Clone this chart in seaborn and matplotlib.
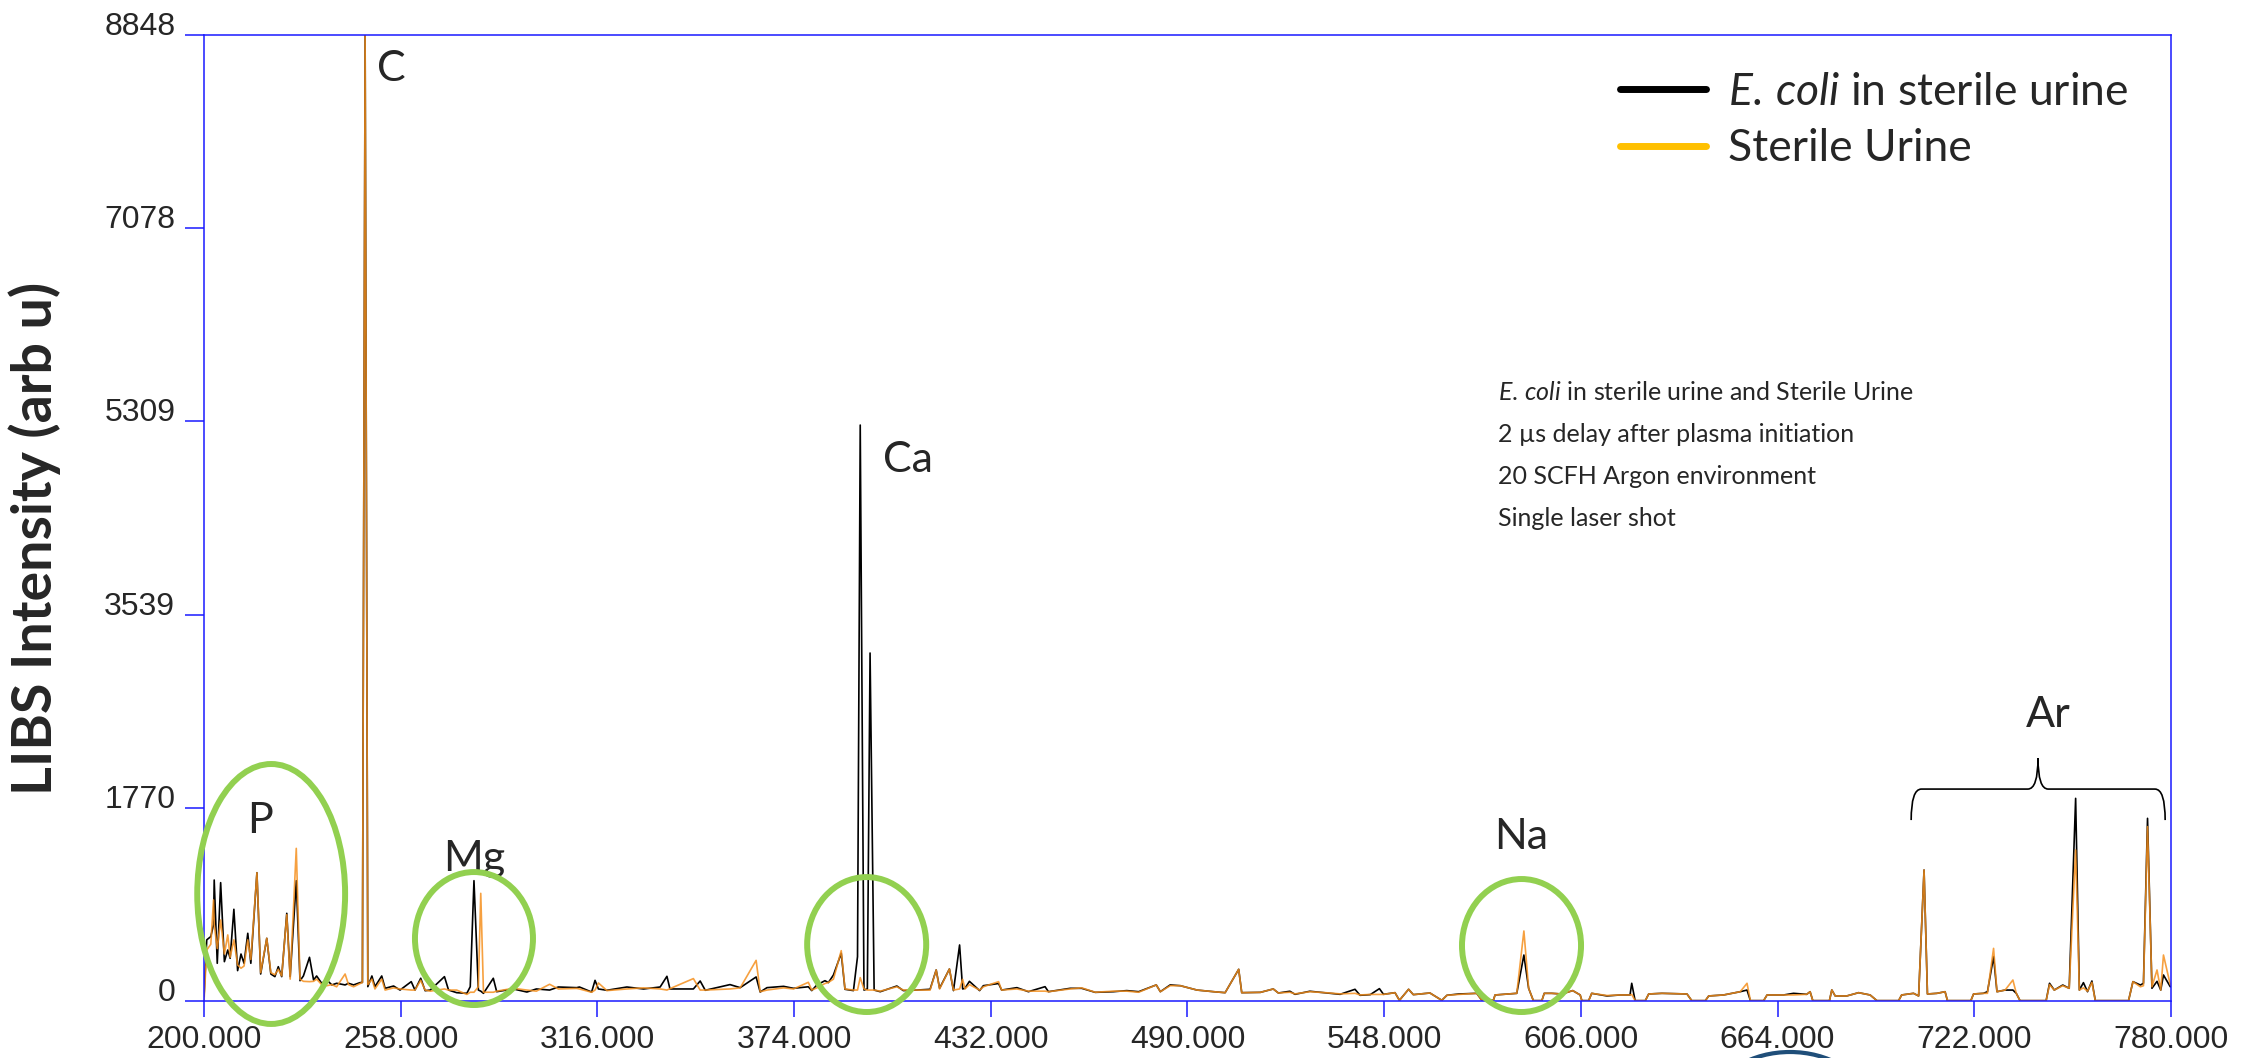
import matplotlib
matplotlib.use('Agg')
import matplotlib.pyplot as plt
import pandas as pd
import seaborn as sns
from matplotlib.lines import Line2D
from matplotlib.patches import Ellipse, PathPatch, Arc
from matplotlib.path import Path

# spectrum (nm, arb u)
wavelength = [
    200.0, 200.8, 202.0, 202.8, 203.0, 203.9, 204.9, 206.0, 207.0, 207.7,
    208.8, 209.9, 210.9, 211.8, 212.9, 213.8, 215.6, 216.7, 218.5, 219.7,
    220.9, 221.9, 222.9, 224.4, 225.4, 227.2, 228.3, 229.3, 231.1, 232.3,
    233.2, 234.7, 236.2, 237.7, 239.1, 241.6, 242.6, 244.1, 246.0, 246.7,
    247.5, 248.3, 249.5, 250.4, 252.4, 253.4, 255.9, 257.8, 261.1, 262.2,
    263.9, 265.2, 266.7, 270.9, 272.1, 274.5, 277.5, 278.5, 279.6, 280.9,
    281.6, 282.4, 285.3, 286.3, 291.2, 295.2, 298.0, 301.9, 304.5, 309.9,
    310.7, 314.3, 315.3, 316.3, 318.8, 324.7, 329.6, 334.5, 336.5, 337.4,
    344.3, 346.3, 347.8, 355.1, 358.1, 362.8, 364.0, 366.0, 370.9, 373.8,
    378.2, 379.2, 380.7, 383.1, 384.1, 385.6, 387.9, 389.0, 391.5, 392.7,
    393.5, 394.6, 395.6, 396.4, 397.6, 399.4, 404.3, 406.2, 410.2, 414.1,
    415.9, 416.9, 419.8, 421.0, 422.8, 423.7, 424.4, 425.7, 428.7, 429.8,
    434.3, 435.2, 439.7, 443.1, 448.0, 449.0, 455.4, 458.8, 462.8, 468.2,
    472.1, 475.6, 480.8, 482.0, 484.9, 487.9, 492.8, 497.7, 501.1, 505.1,
    506.0, 511.5, 515.3, 516.8, 520.2, 521.7, 526.1, 531.1, 535.0, 539.4,
    540.9, 543.9, 546.6, 547.8, 551.2, 552.5, 555.2, 556.6, 561.5, 565.0,
    566.5, 570.0, 575.3, 576.8, 580.2, 580.7, 587.1, 589.2, 590.6, 592.0,
    594.5, 595.2, 597.4, 600.4, 603.6, 605.8, 606.3, 608.3, 609.2, 613.7,
    617.6, 620.5, 621.0, 622.0, 625.0, 626.0, 629.9, 637.3, 638.7, 642.7,
    643.7, 648.1, 653.0, 655.0, 656.0, 659.9, 660.9, 665.8, 668.7, 672.6,
    673.6, 674.4, 679.3, 680.0, 681.0, 684.4, 687.9, 691.3, 693.3, 699.7,
    700.6, 704.1, 705.6, 707.2, 708.2, 711.0, 713.4, 714.1, 721.0, 721.8,
    724.7, 725.9, 727.7, 728.7, 731.1, 733.4, 734.4, 735.5, 743.2, 744.2,
    745.6, 748.1, 750.0, 751.9, 753.0, 754.2, 755.4, 756.7, 757.7, 767.5,
    768.8, 771.0, 771.9, 773.1, 774.4, 775.9, 777.0, 777.8, 779.8, 780.0,
]
ecoli = [
    40, 560, 590, 700, 1108, 345, 1084, 360, 467, 391,
    840, 278, 430, 345, 620, 345, 1175, 247, 574, 247,
    223, 314, 223, 803, 223, 1102, 186, 229, 400, 192,
    229, 162, 192, 147, 162, 147, 162, 147, 168, 170,
    8848, 131, 229, 131, 229, 116, 137, 100, 177, 100,
    208, 94, 100, 223, 100, 76, 70, 131, 1102, 100,
    90, 70, 208, 85, 110, 82, 110, 100, 128, 122,
    128, 82, 189, 110, 98, 128, 110, 128, 226, 110,
    110, 183, 98, 150, 122, 220, 82, 122, 134, 116,
    130, 95, 146, 186, 168, 238, 437, 107, 95, 406,
    5275, 100, 110, 3187, 100, 85, 137, 95, 100, 107,
    284, 116, 293, 95, 513, 110, 116, 180, 95, 140,
    160, 100, 122, 85, 131, 85, 116, 116, 79, 85,
    95, 85, 147, 85, 147, 140, 100, 85, 76, 290,
    76, 79, 110, 73, 89, 61, 89, 73, 61, 107,
    52, 58, 113, 61, 76, 6, 107, 58, 73, 6,
    52, 64, 70, 6, 6, 55, 70, 421, 116, 3,
    3, 70, 70, 64, 95, 55, 3, 3, 70, 46,
    55, 55, 162, 3, 3, 64, 70, 64, 3, 3,
    46, 55, 85, 100, 3, 3, 55, 55, 70, 61,
    85, 3, 3, 101, 46, 46, 76, 55, 3, 3,
    55, 70, 46, 1200, 64, 70, 85, 3, 3, 64,
    70, 85, 406, 85, 100, 100, 70, 3, 3, 162,
    100, 146, 116, 1856, 100, 168, 85, 183, 3, 3,
    177, 146, 162, 1673, 116, 180, 100, 238, 131, 131,
]
urine = [
    0, 467, 520, 925, 700, 480, 742, 430, 605, 400,
    560, 330, 300, 320, 560, 380, 1175, 260, 574, 260,
    240, 290, 230, 790, 200, 1398, 200, 180, 177, 180,
    200, 150, 140, 150, 130, 247, 150, 130, 160, 170,
    8848, 150, 200, 110, 200, 100, 120, 110, 100, 100,
    190, 100, 90, 110, 100, 100, 60, 80, 80, 130,
    986, 80, 80, 90, 116, 100, 90, 153, 110, 115,
    110, 80, 100, 165, 95, 110, 120, 110, 100, 113,
    205, 100, 100, 110, 120, 372, 85, 100, 120, 110,
    171, 100, 120, 160, 170, 200, 461, 110, 100, 100,
    214, 110, 100, 100, 100, 90, 130, 100, 100, 100,
    284, 110, 293, 100, 110, 198, 110, 150, 100, 130,
    177, 100, 110, 90, 90, 85, 110, 120, 80, 90,
    90, 80, 147, 85, 140, 140, 100, 85, 76, 290,
    76, 79, 110, 73, 80, 65, 85, 75, 65, 70,
    55, 60, 60, 60, 76, 6, 107, 58, 73, 6,
    52, 60, 70, 6, 6, 55, 70, 641, 116, 3,
    3, 70, 70, 64, 95, 55, 3, 3, 70, 50,
    55, 55, 60, 3, 3, 64, 70, 64, 3, 3,
    46, 55, 85, 162, 3, 3, 55, 55, 55, 61,
    85, 3, 3, 101, 46, 46, 76, 55, 3, 3,
    55, 70, 46, 1200, 64, 70, 85, 3, 3, 64,
    70, 70, 482, 85, 100, 192, 70, 3, 3, 150,
    100, 140, 116, 1383, 100, 120, 90, 170, 3, 3,
    177, 130, 140, 1597, 130, 284, 100, 421, 150, 150,
]

legend_labels = [r'$\mathit{E.\,coli}$ in sterile urine', 'Sterile Urine']

x_ticks = [200, 258, 316, 374, 432, 490, 548, 606, 664, 722, 780]
y_ticks = [0, 1769.6, 3539.2, 5308.8, 7078.4, 8848]
y_tick_labels = ['0', '1770', '3539', '5309', '7078', '8848']

element_labels = ['C', 'Ca', 'P', 'Mg', 'Na', 'Ar']
element_x = [255.3, 407.6, 216.5, 279.6, 588.4, 743.8]
element_y = [8535, 4954, 1646, 1300, 1502, 2619]

# green rings: centre (nm, intensity), width (nm), height (intensity)
ring_x = [219.8, 279.6, 395.4, 588.5]
ring_y = [980, 572, 517, 508]
ring_w = [43.6, 34.8, 35.1, 35.1]
ring_h = [2381, 1218, 1236, 1218]

note_lines = [r'$\mathit{E.\,coli}$ in sterile urine and Sterile Urine',
              '2 \u00b5s delay after plasma initiation',
              '20 SCFH Argon environment',
              'Single laser shot']

BLUE = '#1a1aff'
ORANGE = '#f5901e'
GREEN = '#92d050'
TEXT_FONT = 'Lato'

df = pd.DataFrame({'Wavelength': wavelength, 'ecoli': ecoli, 'urine': urine})

sns.set_style('white')
plt.rcParams['font.family'] = ['Liberation Sans', 'DejaVu Sans']
plt.rcParams['mathtext.fontset'] = 'custom'
plt.rcParams['mathtext.rm'] = TEXT_FONT
plt.rcParams['mathtext.it'] = TEXT_FONT + ':italic'

fig = plt.figure(figsize=(22.52, 10.58), dpi=100)
ax = fig.add_axes([0.0906, 0.0539, 0.8734, 0.913])

sns.lineplot(data=df, x='Wavelength', y='ecoli', color='black', linewidth=1.2,
             ax=ax, legend=False, sort=False)
sns.lineplot(data=df, x='Wavelength', y='urine', color=ORANGE, linewidth=1.2,
             alpha=0.85, ax=ax, legend=False, sort=False)

ax.set_xlim(200, 780)
ax.set_ylim(0, 8848)
ax.set_xticks(x_ticks)
ax.set_xticklabels([f'{v:.3f}' for v in x_ticks])
ax.set_yticks(y_ticks)
ax.set_yticklabels(y_tick_labels)
for lbl in ax.get_yticklabels():
    lbl.set_verticalalignment('baseline')

for side in ['left', 'right', 'top', 'bottom']:
    ax.spines[side].set_color(BLUE)
    ax.spines[side].set_linewidth(1.1)
ax.tick_params(axis='y', direction='out', length=13.7, width=1.1, color=BLUE,
               pad=7, labelsize=23, left=True)
ax.tick_params(axis='x', direction='out', length=11.5, width=1.1, color=BLUE,
               pad=6, labelsize=23, bottom=True)

ax.set_xlabel('')
ax.set_ylabel('LIBS Intensity (arb u)', fontsize=40, fontweight='bold',
              family=TEXT_FONT)
ax.yaxis.set_label_coords(-0.0725, 0.479)

for name, x, y in zip(element_labels, element_x, element_y):
    ax.text(x, y, name, fontsize=31, family=TEXT_FONT, ha='center', va='center')

for x, y, w, h in zip(ring_x, ring_y, ring_w, ring_h):
    ax.add_patch(Ellipse((x, y), w, h, fill=False, edgecolor=GREEN,
                         linewidth=4.3, clip_on=False, zorder=5))

# brace over the argon lines
bx0, bx1, bxm = 703.4, 778.3, 740.8
by_end, by_bar, by_tip = 1657, 1941, 2225
brace = Path([(bx0, by_end), (bx0, by_bar), (bx0 + 3, by_bar),
              (bxm - 3, by_bar), (bxm, by_bar), (bxm, by_tip),
              (bxm, by_bar), (bxm + 3, by_bar),
              (bx1 - 3, by_bar), (bx1, by_bar), (bx1, by_end)],
             [Path.MOVETO, Path.CURVE3, Path.CURVE3,
              Path.LINETO, Path.CURVE3, Path.CURVE3,
              Path.CURVE3, Path.CURVE3,
              Path.LINETO, Path.CURVE3, Path.CURVE3])
ax.add_patch(PathPatch(brace, fill=False, edgecolor='black', linewidth=1.2))

for i, line in enumerate(note_lines):
    ax.text(0.658, 0.630 - i * 0.0435, line, transform=ax.transAxes,
            fontsize=18, family=TEXT_FONT, ha='left', va='center')

handles = [Line2D([0], [0], color='black', linewidth=5),
           Line2D([0], [0], color='#ffc000', linewidth=5)]
ax.legend(handles, legend_labels, loc='upper left', bbox_to_anchor=(0.72, 0.962),
          frameon=False, prop={'family': TEXT_FONT, 'size': 32},
          handlelength=1.94, handletextpad=0.48, labelspacing=0.35,
          borderaxespad=0, borderpad=0)

# piece of a picture cut off at the bottom edge
fig.patches.append(Arc((1790 / 2252, -60 / 1058), 170 / 2252, 132 / 1058,
                       theta1=25, theta2=155, transform=fig.transFigure,
                       edgecolor='#1f4e79', linewidth=3))

fig.savefig('out.png', dpi=100)
plt.close(fig)
